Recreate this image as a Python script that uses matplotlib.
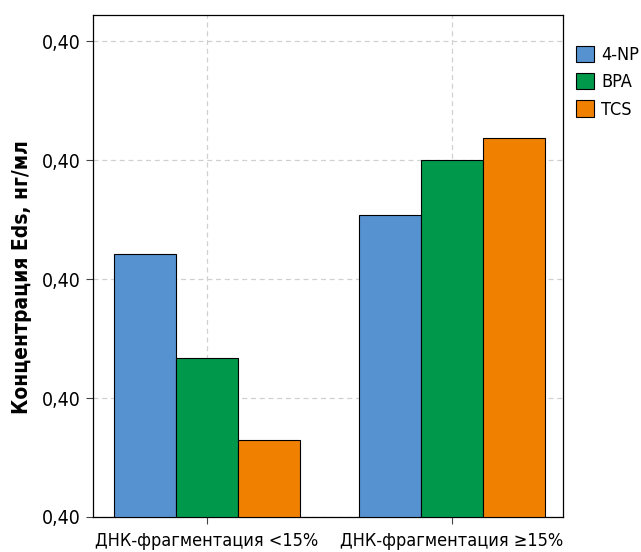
import matplotlib
matplotlib.use("Agg")
import matplotlib.pyplot as plt
import numpy as np

groups = ["ДНК-фрагментация <15%", "ДНК-фрагментация ≥15%"]
series = ["4-NP", "BPA", "TCS"]
values_4np = [2.21, 2.54]
values_bpa = [1.34, 3.00]
values_tcs = [0.65, 3.19]
tick_pos = [0, 1, 2, 3, 4]
tick_labels = ["0,40", "0,40", "0,40", "0,40", "0,40"]
colors = ["#5592cf", "#00984a", "#f08000"]

fig = plt.figure(figsize=(6.41, 5.52), dpi=100)
ax = fig.add_axes([93 / 641, 35 / 552, 470 / 641, 502 / 552])

x = np.arange(len(groups))
w = 0.253
for i, (name, vals) in enumerate(zip(series, [values_4np, values_bpa, values_tcs])):
    ax.bar(x + (i - 1) * w, vals, w, color=colors[i], edgecolor="black",
           linewidth=0.8, label=name, zorder=3)

ax.set_xlim(-0.465, 1.453)
ax.set_ylim(0, 4.22)
ax.set_yticks(tick_pos)
ax.set_yticklabels(tick_labels, family="DejaVu Sans", stretch="condensed", fontsize=14)
ax.set_xticks(x)
ax.set_xticklabels(groups, family="DejaVu Sans", stretch="condensed", fontsize=13)
ax.tick_params(length=5, width=0.8, color="#444444")
ax.tick_params(axis="x", pad=6)
ax.grid(True, color="#d0d0d0", linestyle=(0, (4, 3)), linewidth=0.9, zorder=0)
for s in ax.spines.values():
    s.set_linewidth(0.9)

ax.set_ylabel("Концентрация Eds, нг/мл", fontsize=15, fontweight="bold",
              family="DejaVu Sans", stretch="condensed")
ax.yaxis.set_label_coords(-0.13, 0.478)

leg = ax.legend(loc="upper left", bbox_to_anchor=(1.005, 0.96), frameon=False,
                prop={"family": "DejaVu Sans", "stretch": "condensed", "size": 13},
                handlelength=1.0, handleheight=1.0, handletextpad=0.4,
                labelspacing=0.5, borderaxespad=0.2)
for h in leg.legend_handles:
    h.set_linewidth(0.8)

fig.savefig("out.png", dpi=100)
